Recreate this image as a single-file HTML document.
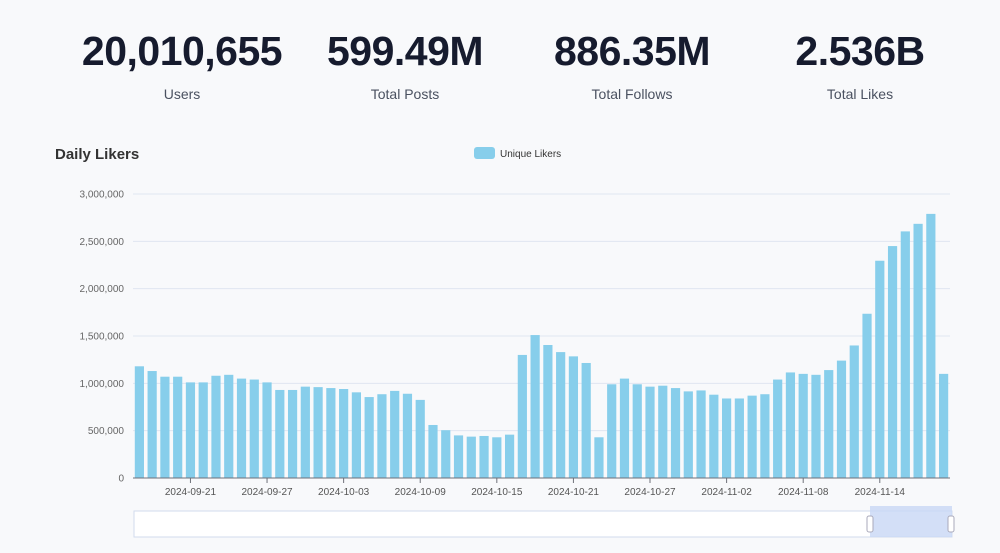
<!DOCTYPE html>
<html><head><meta charset="utf-8"><style>
body{margin:0;width:1000px;height:553px;background:#f8f9fb;font-family:"Liberation Sans",sans-serif;overflow:hidden;position:relative}
.kpi{position:absolute;top:28px;width:240px;text-align:center}
.kpi .v{font-size:41px;font-weight:bold;color:#161b2e;letter-spacing:-0.5px;line-height:46px}
.kpi .l{font-size:14px;color:#4a5160;margin-top:12px}
</style></head><body>
<div class="kpi" style="left:62px"><div class="v">20,010,655</div><div class="l">Users</div></div>
<div class="kpi" style="left:285px"><div class="v">599.49M</div><div class="l">Total Posts</div></div>
<div class="kpi" style="left:512px"><div class="v">886.35M</div><div class="l">Total Follows</div></div>
<div class="kpi" style="left:740px"><div class="v">2.536B</div><div class="l">Total Likes</div></div>
<svg id="chart" width="1000" height="553" style="position:absolute;left:0;top:0">
<text x="55" y="159" font-size="15" font-weight="bold" fill="#333">Daily Likers</text>
<g><rect x="474" y="147" width="21" height="12" rx="3" fill="#87ceeb"/><text x="500" y="157" font-size="10" fill="#333">Unique Likers</text></g>
</svg>
<script>
const startDate = "2024-09-17";
const values = [1.18,1.13,1.07,1.07,1.01,1.01,1.08,1.09,1.05,1.04,1.01,0.93,0.93,0.965,0.96,0.95,0.94,0.905,0.855,0.885,0.92,0.89,0.825,0.56,0.505,0.45,0.437,0.444,0.43,0.458,1.30,1.51,1.405,1.33,1.285,1.215,0.43,0.99,1.05,0.99,0.965,0.975,0.95,0.915,0.925,0.88,0.84,0.84,0.87,0.885,1.04,1.115,1.10,1.09,1.14,1.24,1.40,1.735,2.295,2.45,2.605,2.685,2.79,1.10].map(v=>v*1e6);
const yTicks = [0,500000,1000000,1500000,2000000,2500000,3000000];
const svg=document.getElementById('chart');const NS='http://www.w3.org/2000/svg';
const X0=133,X1=950,Y0=478,Y1=194,YMAX=3000000;
const band=(X1-X0)/values.length;
const y=v=>Y0-(v/YMAX)*(Y0-Y1);
const xc=i=>X0+band*(i+0.5);
function mk(t,a,p){const e=document.createElementNS(NS,t);for(const k in a)e.setAttribute(k,a[k]);(p||svg).appendChild(e);return e;}
yTicks.forEach(t=>{
 const g=mk('line',{x1:X0,x2:X1,y1:y(t),y2:y(t),stroke:'#e0e6f1','stroke-width':1});
 
 
 const l=mk('text',{x:124,y:y(t)+3.5,'text-anchor':'end','font-size':10,fill:'#666'});l.textContent=t.toLocaleString('en-US');
 
 
});
values.forEach((v,i)=>{
 const r=mk('rect',{x:xc(i)-band*0.36,y:y(v),width:band*0.72,height:Y0-y(v),fill:'#87ceeb'});
 
 
});
mk('line',{x1:X0,x2:X1,y1:Y0,y2:Y0,stroke:'#6e7079'});
const d0=new Date(startDate+'T00:00:00Z');
for(let i=4;i<values.length;i+=6){
 const d=new Date(d0.getTime()+i*864e5);
 mk('line',{x1:xc(i),x2:xc(i),y1:Y0,y2:Y0+5,stroke:'#6e7079'});
 const l=mk('text',{x:xc(i),y:495,'text-anchor':'middle','font-size':10,fill:'#555'});l.textContent=d.toISOString().slice(0,10);
 
 
}
const dz=mk('g',{});


mk('rect',{x:134,y:511,width:818,height:26,fill:'#fff',stroke:'#d2dbee'},dz);
mk('rect',{x:870,y:506,width:82,height:31,fill:'#c8d7f5',opacity:0.8},dz);
mk('rect',{x:867,y:516,width:6,height:16,rx:2,fill:'#fff',stroke:'#aab'},dz);
mk('rect',{x:948,y:516,width:6,height:16,rx:2,fill:'#fff',stroke:'#aab'},dz);
</script>
</body></html>
